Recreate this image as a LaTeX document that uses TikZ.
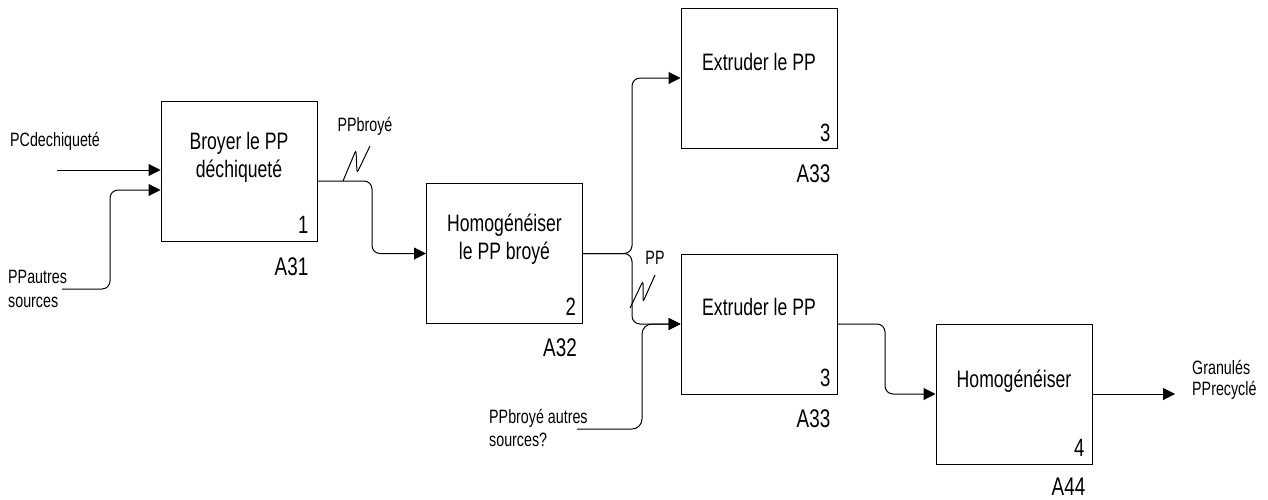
\documentclass[tikz,border=0pt]{standalone}
\usepackage{fontspec}
\setmainfont{Liberation Sans}[FakeStretch=0.74]
\usetikzlibrary{arrows.meta,calc}
\begin{document}
\begin{tikzpicture}[x=1pt,y=-1pt,
 box/.style={draw, line width=1pt, minimum width=156pt, minimum height=140pt, inner sep=0pt},
 boxtext/.style={font=\fontsize{23.8}{28}\selectfont, inner sep=0pt, anchor=base},
 num/.style={font=\fontsize{25}{25}\selectfont, inner sep=0pt, anchor=south east},
 aref/.style={font=\fontsize{25.5}{25.5}\selectfont, inner sep=0pt, anchor=east},
 lbl/.style={font=\fontsize{19.3}{19.3}\selectfont, inner sep=0pt, anchor=west, text height=13.5pt, text depth=0pt},
 clbl/.style={lbl, anchor=center},
 flow/.style={line width=1pt, rounded corners=8pt},
 arr/.style={flow, -{Triangle[length=12pt,width=12pt]}},
 squig/.style={line width=1pt, rounded corners=3pt}]
\useasboundingbox (0,0) rectangle (1268,499);

% boxes
\node[box] (b1) at (239,171) {};
\node[box] (b2) at (504.5,253.5) {};
\node[box] (b3) at (759,78) {};
\node[box] (b3b) at (759,324) {};
\node[box] (b4) at (1014,394) {};

% box texts
\node[boxtext] (t1a) at ([yshift=-48.5pt]b1.north) {Broyer le PP};
\node[boxtext] (t1b) at ([yshift=-76.5pt]b1.north) {déchiqueté};
\node[boxtext] (t2a) at ([yshift=-48.5pt]b2.north) {Homogénéiser};
\node[boxtext] (t2b) at ([yshift=-76.5pt]b2.north) {le PP broyé};
\node[boxtext] (t3) at ([yshift=-63pt]b3.north) {Extruder le PP};
\node[boxtext] (t3b) at ([yshift=-62pt]b3b.north) {Extruder le PP};
\node[boxtext] (t4) at ([yshift=-64pt]b4.north) {Homogénéiser};

% numbers
\node[num] (n1) at ([xshift=-9pt,yshift=8pt]b1.south east) {1};
\node[num] (n2) at ([xshift=-7pt,yshift=8pt]b2.south east) {2};
\node[num] (n3) at ([xshift=-7pt,yshift=7pt]b3.south east) {3};
\node[num] (n3b) at ([xshift=-7pt,yshift=8pt]b3b.south east) {3};
\node[num] (n4) at ([xshift=-8pt,yshift=8pt]b4.south east) {4};

% references
\node[aref] (a1) at ([xshift=-9pt,yshift=-25pt]b1.south east) {A31};
\node[aref] (a2) at ([xshift=-6pt,yshift=-24pt]b2.south east) {A32};
\node[aref] (a3) at ([xshift=-7pt,yshift=-25pt]b3.south east) {A33};
\node[aref] (a3b) at ([xshift=-7pt,yshift=-24pt]b3b.south east) {A33};
\node[aref] (a4) at ([xshift=-7pt,yshift=-22pt]b4.south east) {A44};

% labels
\node[lbl] (lpc) at (10,139.5) {PCdechiqueté};
\node[lbl] (lppa1) at (8,277) {PPautres};
\node[lbl] (lppa2) at (8,301) {sources};
\node[clbl] (lppb) at (365,125) {PPbroyé};
\node[clbl] (lpp) at (655,258) {PP};
\node[lbl] (lpba1) at (489,417) {PPbroyé autres};
\node[lbl] (lpba2) at (489,440) {sources?};
\node[lbl] (lgr1) at (1192,368) {Granulés};
\node[lbl] (lgr2) at (1192,389) {PPrecyclé};

% free ends and junctions
\coordinate (cpc) at (57,170);
\coordinate (cppa) at (62,289);
\coordinate (j0) at (110,0);
\coordinate (j1) at (372,0);
\coordinate (j2) at (632,0);
\coordinate (cpba) at (577,429);
\coordinate (j3) at (642,0);
\coordinate (j4) at (885,0);
\coordinate (cout) at (1175,394);

% connectors
\draw[arr] (cpc) -- (cpc -| b1.west);
\draw[arr] (cppa) -| (j0 |- 0,190) -- ([yshift=-19pt]b1.west);
\draw[arr] ([yshift=-10pt]b1.east) -| (j1 |- b2.west) -- (b2.west);
\draw[arr] (b2.east) -| (j2 |- b3.west) -- (b3.west);
\draw[arr] (b2.east) -| (j2 |- b3b.west) -- (b3b.west);
\draw[arr, rounded corners=10pt] (cpba) -| (j3 |- b3b.west) -- (b3b.west);
\draw[arr] (b3b.east) -| (j4 |- b4.west) -- (b4.west);
\draw[arr] (b4.east) -- (cout);

% squiggles
\draw[squig] (343,181) -- (356,150) -- (357,173) -- (370,146);
\draw[squig] (630,308) -- (643,281) -- (643,302) -- (655,275);
\end{tikzpicture}
\end{document}
